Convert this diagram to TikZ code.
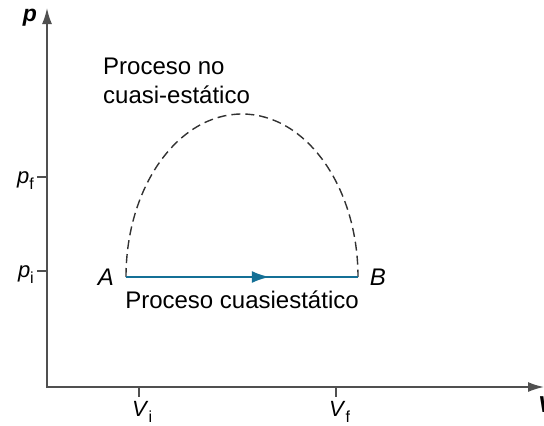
\documentclass[tikz,border=0pt]{standalone}
\usepackage{fontspec}
\setmainfont{Liberation Sans}
\usetikzlibrary{arrows.meta,decorations.markings}
\definecolor{axisgray}{RGB}{80,80,80}
\definecolor{procblue}{RGB}{20,112,150}
\definecolor{dashgray}{RGB}{50,50,50}
\begin{document}
\begin{tikzpicture}[x=1pt,y=-1pt,
  axis/.style={draw=axisgray,line width=1.7pt},
  tickmark/.style={draw=axisgray,line width=1.5pt},
  lbl/.style={font=\fontsize{24}{26}\selectfont,inner sep=0pt},
  ticklbl/.style={font=\fontsize{22}{24}\selectfont,inner sep=0pt},
  blueline/.style={draw=procblue,line width=2.6pt,
    postaction={decorate,decoration={markings,mark=at position 0.62 with {\arrow{Latex[length=18pt,width=12pt]}}}}},
  dashline/.style={draw=dashgray,line width=1.4pt,dash pattern=on 9pt off 5pt}
]
\useasboundingbox (0,0) rectangle (544,426);
\newcommand{\subf}[1]{\raisebox{-0.3em}{\fontsize{16}{16}\selectfont #1}}
% axes
\coordinate (O) at (46,387);
\coordinate (ytop) at (47,8);
\coordinate (xend) at (544,387);
\draw[axis,-{Latex[length=16pt,width=10pt]}] (47,388) -- (ytop);
\draw[axis,-{Latex[length=16pt,width=10pt]}] (O) -- (xend);
\node[lbl,anchor=base east,font=\fontsize{23}{25}\selectfont\bfseries\itshape] (plab) at (37,21) {p};
\node[lbl,anchor=base west,font=\fontsize{23}{25}\selectfont\bfseries\itshape] (vlab) at (538,412) {V};
% ticks
\coordinate (pft) at (37,177);
\coordinate (pfa) at (47,177);
\coordinate (pit) at (37,271);
\coordinate (pia) at (47,271);
\draw[tickmark] (pft) -- (pfa);
\draw[tickmark] (pit) -- (pia);
\coordinate (vit) at (139,387);
\coordinate (vib) at (139,397);
\coordinate (vft) at (336,387);
\coordinate (vfb) at (336,397);
\draw[tickmark] (vit) -- (vib);
\draw[tickmark] (vft) -- (vfb);
\node[ticklbl,anchor=base east] (pf) at (34,183) {\textit{p}\subf{f}};
\node[ticklbl,anchor=base east] (pi) at (34,277) {\textit{p}\subf{i}};
\node[ticklbl,anchor=base west] (vi) at (132,416) {\textit{V}\subf{i}};
\node[ticklbl,anchor=base west] (vf) at (329,416) {\textit{V}\subf{f}};
% process
\coordinate (pA) at (126,277);
\coordinate (pB) at (358,277);
\node[lbl,anchor=base] (A) at (106,285) {\textit{A}};
\node[lbl,anchor=base] (B) at (378,285) {\textit{B}};
\draw[dashline] (pA) arc[start angle=180,end angle=0,x radius=116pt,y radius=163pt];
\draw[blueline] (pA) -- (pB);
\node[lbl,anchor=base] (qs) at (242,308) {Proceso cuasiestático};
\node[lbl,anchor=base west,align=left,font=\fontsize{24}{29}\selectfont] (nqs) at (103,103) {Proceso no\\cuasi-estático};
\end{tikzpicture}
\end{document}
